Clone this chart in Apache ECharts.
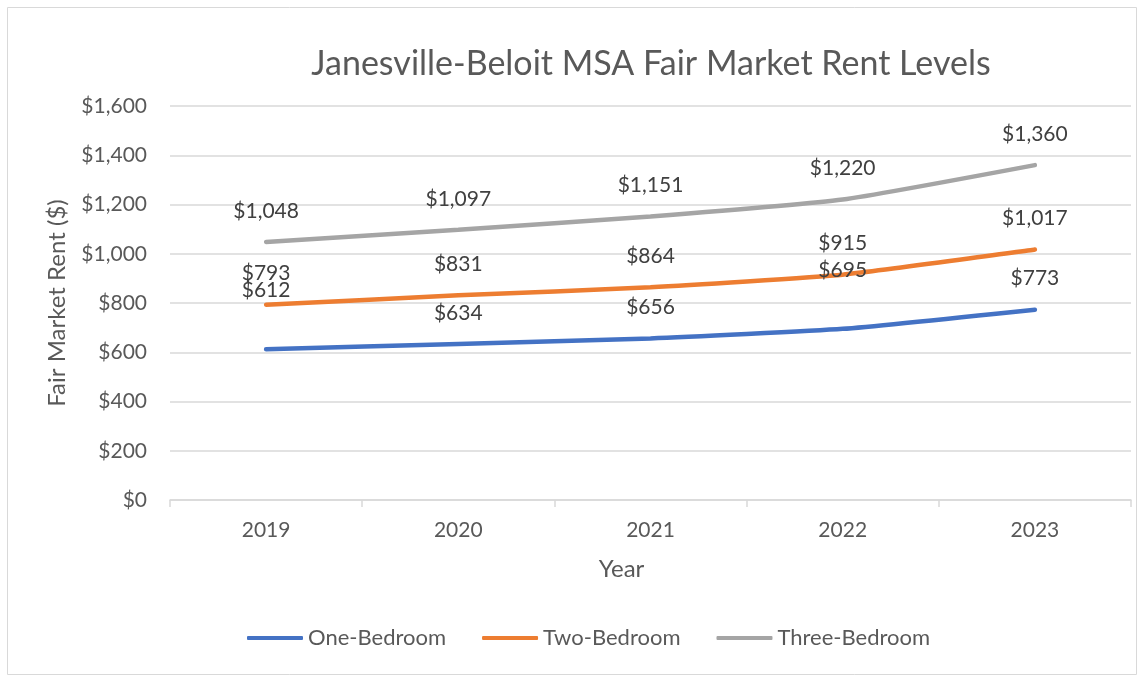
<!DOCTYPE html>
<html>
<head>
<meta charset="utf-8">
<script src="https://cdn.jsdelivr.net/npm/echarts@6/dist/echarts.min.js"></script>
<style>
  html, body { margin: 0; padding: 0; background: #fff; }
  #chart { width: 1145px; height: 681px; }
</style>
</head>
<body>
<div id="chart"></div>
<script>
var years = ['2019', '2020', '2021', '2022', '2023'];
var oneBedroom = [612, 634, 656, 695, 773];
var twoBedroom = [793, 831, 864, 915, 1017];
var threeBedroom = [1048, 1097, 1151, 1220, 1360];

var chartDom = document.getElementById('chart');
var myChart = echarts.init(chartDom);
var font = 'Lato';

var money = function (v) {
  return '$' + Number(v).toLocaleString('en-US');
};

// a couple of labels sit higher in the original
var raised = { 'One-Bedroom': [0, 3] };

var makeSeries = function (name, values, color) {
  var lifted = raised[name] || [];
  return {
    name: name,
    type: 'line',
    smooth: 0.15,
    symbol: 'circle',
    symbolSize: 1,
    showSymbol: true,
    lineStyle: { width: 4.5, color: color, cap: 'round' },
    itemStyle: { color: color },
    label: {
      show: true,
      position: 'top',
      distance: 20,
      formatter: function (p) { return money(p.value); },
      fontFamily: font,
      fontSize: 21,
      color: '#404040'
    },
    data: values.map(function (v, i) {
      if (lifted.indexOf(i) >= 0) {
        return { value: v, label: { offset: [0, -28] } };
      }
      return v;
    })
  };
};

var option = {
  animation: false,
  graphic: [{
    type: 'rect',
    shape: { x: 7.5, y: 7.5, width: 1129, height: 667 },
    style: { fill: 'none', stroke: '#d9d9d9', lineWidth: 1 },
    silent: true
  }],
  title: {
    text: 'Janesville-Beloit MSA Fair Market Rent Levels',
    left: 646,
    textAlign: 'center',
    top: 42,
    textStyle: { fontFamily: font, fontSize: 34, fontWeight: 'normal', color: '#595959' }
  },
  legend: {
    bottom: 27,
    left: 242,
    itemWidth: 56,
    itemHeight: 4,
    itemGap: 36,
    icon: 'roundRect',
    textStyle: { fontFamily: font, fontSize: 22, color: '#595959' },
    data: ['One-Bedroom', 'Two-Bedroom', 'Three-Bedroom']
  },
  grid: { left: 170, right: 14, top: 106, bottom: 181 },
  xAxis: {
    type: 'category',
    data: years,
    boundaryGap: true,
    name: 'Year',
    nameLocation: 'middle',
    nameGap: 57,
    nameTextStyle: { fontFamily: font, fontSize: 24, color: '#595959', padding: [0, 58, 0, 0] },
    axisLine: { lineStyle: { color: '#d9d9d9', width: 1.5 } },
    axisTick: { show: true, length: 7, lineStyle: { color: '#d9d9d9', width: 1.5 } },
    axisLabel: { margin: 20, fontFamily: font, fontSize: 21, color: '#595959' }
  },
  yAxis: {
    type: 'value',
    min: 0,
    max: 1600,
    interval: 200,
    name: 'Fair Market Rent ($)',
    nameLocation: 'middle',
    nameGap: 101,
    nameTextStyle: { fontFamily: font, fontSize: 24, color: '#595959' },
    axisLine: { show: false },
    axisTick: { show: false },
    splitLine: { lineStyle: { color: '#d9d9d9', width: 1.5 } },
    axisLabel: {
      margin: 23,
      fontFamily: font,
      fontSize: 21,
      color: '#595959',
      formatter: money
    }
  },
  series: [
    makeSeries('One-Bedroom', oneBedroom, '#4472C4'),
    makeSeries('Two-Bedroom', twoBedroom, '#ED7D31'),
    makeSeries('Three-Bedroom', threeBedroom, '#A5A5A5')
  ]
};

option && myChart.setOption(option);
</script>
</body>
</html>
